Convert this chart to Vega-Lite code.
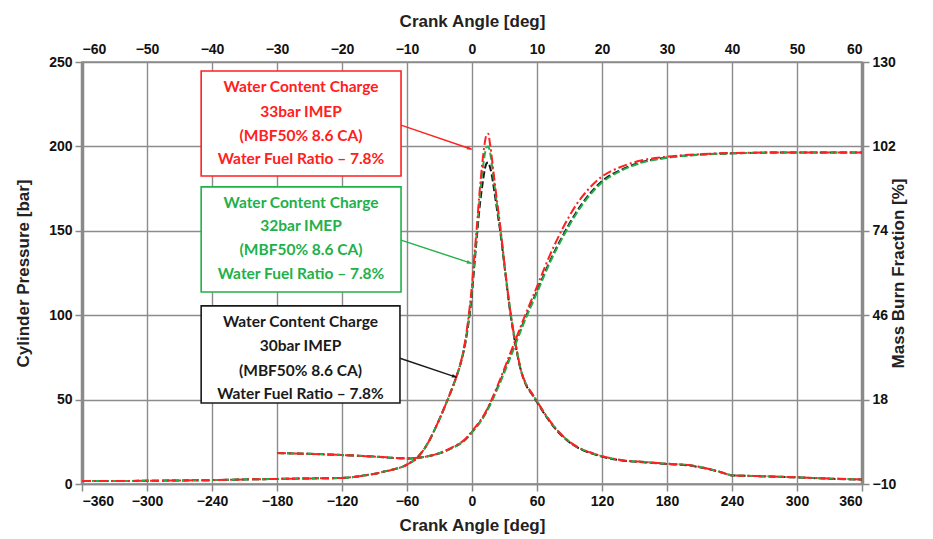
{
  "$schema": "https://vega.github.io/schema/vega-lite/v6.json",
  "width": 780,
  "height": 422,
  "autosize": {"type": "none"},
  "padding": {"left": 82, "top": 62, "right": 71, "bottom": 55},
  "background": "white",
  "config": {
    "view": {"stroke": "#8a8a8a", "strokeWidth": 1.5},
    "font": "Liberation Sans"
  },
  "datasets": {
    "pressure": [
      {"a": -360, "33bar": 1.8, "32bar": 1.8, "30bar": 1.8},
      {"a": -330, "33bar": 1.8, "32bar": 1.8, "30bar": 1.8},
      {"a": -300, "33bar": 1.9, "32bar": 1.9, "30bar": 1.9},
      {"a": -270, "33bar": 2.1, "32bar": 2.1, "30bar": 2.1},
      {"a": -240, "33bar": 2.3, "32bar": 2.3, "30bar": 2.3},
      {"a": -210, "33bar": 2.7, "32bar": 2.7, "30bar": 2.7},
      {"a": -180, "33bar": 3.0, "32bar": 3.0, "30bar": 3.0},
      {"a": -150, "33bar": 3.3, "32bar": 3.3, "30bar": 3.3},
      {"a": -120, "33bar": 3.6, "32bar": 3.6, "30bar": 3.6},
      {"a": -100, "33bar": 5, "32bar": 5, "30bar": 5},
      {"a": -80, "33bar": 7.5, "32bar": 7.5, "30bar": 7.5},
      {"a": -60, "33bar": 11.5, "32bar": 11.5, "30bar": 11.5},
      {"a": -50, "33bar": 16, "32bar": 16, "30bar": 16},
      {"a": -40, "33bar": 25, "32bar": 25, "30bar": 25},
      {"a": -35, "33bar": 31.5, "32bar": 31.5, "30bar": 31.5},
      {"a": -30, "33bar": 38.5, "32bar": 38.5, "30bar": 38.5},
      {"a": -25, "33bar": 46, "32bar": 46, "30bar": 46},
      {"a": -20, "33bar": 54, "32bar": 54, "30bar": 54},
      {"a": -15, "33bar": 62.5, "32bar": 62.5, "30bar": 62.5},
      {"a": -10, "33bar": 73, "32bar": 73, "30bar": 72.5},
      {"a": -6, "33bar": 86, "32bar": 85, "30bar": 84},
      {"a": -3, "33bar": 100, "32bar": 98, "30bar": 96.5},
      {"a": 0, "33bar": 118, "32bar": 115, "30bar": 113},
      {"a": 2, "33bar": 134, "32bar": 131, "30bar": 128},
      {"a": 4.3, "33bar": 151, "32bar": 148, "30bar": 145},
      {"a": 7, "33bar": 173, "32bar": 169, "30bar": 164},
      {"a": 10, "33bar": 193, "32bar": 187, "30bar": 179},
      {"a": 12, "33bar": 203, "32bar": 196, "30bar": 187},
      {"a": 13.5, "33bar": 207, "32bar": 199.5, "30bar": 190},
      {"a": 15, "33bar": 207.5, "32bar": 200, "30bar": 190.5},
      {"a": 16.5, "33bar": 202, "32bar": 197, "30bar": 188},
      {"a": 18, "33bar": 195, "32bar": 191, "30bar": 184},
      {"a": 20, "33bar": 184, "32bar": 181, "30bar": 176},
      {"a": 23, "33bar": 168, "32bar": 166, "30bar": 163},
      {"a": 26, "33bar": 153, "32bar": 152, "30bar": 150},
      {"a": 30, "33bar": 130, "32bar": 130, "30bar": 129},
      {"a": 35, "33bar": 104, "32bar": 104.5, "30bar": 103},
      {"a": 40, "33bar": 84, "32bar": 84, "30bar": 83},
      {"a": 45, "33bar": 68, "32bar": 68, "30bar": 67.5},
      {"a": 50, "33bar": 59, "32bar": 59, "30bar": 58.5},
      {"a": 55, "33bar": 54, "32bar": 54, "30bar": 53.5},
      {"a": 60, "33bar": 49, "32bar": 49, "30bar": 48.5},
      {"a": 70, "33bar": 39, "32bar": 39, "30bar": 38.5},
      {"a": 80, "33bar": 31, "32bar": 31, "30bar": 30.5},
      {"a": 90, "33bar": 25, "32bar": 25, "30bar": 24.7},
      {"a": 100, "33bar": 21, "32bar": 21, "30bar": 20.7},
      {"a": 110, "33bar": 18.5, "32bar": 18.5, "30bar": 18.2},
      {"a": 120, "33bar": 16.5, "32bar": 16.5, "30bar": 16.2},
      {"a": 140, "33bar": 14, "32bar": 14, "30bar": 13.8},
      {"a": 160, "33bar": 13, "32bar": 13, "30bar": 12.8},
      {"a": 180, "33bar": 12, "32bar": 12, "30bar": 11.8},
      {"a": 200, "33bar": 11.2, "32bar": 11.2, "30bar": 11},
      {"a": 215, "33bar": 9.5, "32bar": 9.5, "30bar": 9.3},
      {"a": 230, "33bar": 7, "32bar": 7, "30bar": 6.9},
      {"a": 240, "33bar": 5.2, "32bar": 5.2, "30bar": 5.1},
      {"a": 260, "33bar": 4.8, "32bar": 4.8, "30bar": 4.7},
      {"a": 280, "33bar": 4.4, "32bar": 4.4, "30bar": 4.3},
      {"a": 300, "33bar": 4, "32bar": 4, "30bar": 3.9},
      {"a": 330, "33bar": 3.2, "32bar": 3.2, "30bar": 3.1},
      {"a": 360, "33bar": 2.7, "32bar": 2.7, "30bar": 2.6}
    ],
    "mbf": [
      {"a": -30, "33bar": 0.3, "32bar": 0.3, "30bar": 0.3},
      {"a": -25, "33bar": 0, "32bar": 0, "30bar": 0},
      {"a": -20, "33bar": -0.4, "32bar": -0.4, "30bar": -0.4},
      {"a": -15, "33bar": -0.9, "32bar": -0.9, "30bar": -0.9},
      {"a": -10, "33bar": -1.5, "32bar": -1.5, "30bar": -1.5},
      {"a": -7, "33bar": -0.9, "32bar": -0.9, "30bar": -0.9},
      {"a": -5, "33bar": 0.3, "32bar": 0.2, "30bar": 0.2},
      {"a": -3, "33bar": 2.2, "32bar": 2, "30bar": 2},
      {"a": -1, "33bar": 5, "32bar": 4.7, "30bar": 4.8},
      {"a": 0, "33bar": 7.5, "32bar": 7.1, "30bar": 7.2},
      {"a": 2, "33bar": 13.5, "32bar": 13, "30bar": 13.2},
      {"a": 4, "33bar": 23, "32bar": 22, "30bar": 22.4},
      {"a": 6, "33bar": 34, "32bar": 32.5, "30bar": 33},
      {"a": 8, "33bar": 45, "32bar": 43.5, "30bar": 44},
      {"a": 10, "33bar": 55.5, "32bar": 53.5, "30bar": 54},
      {"a": 12, "33bar": 66, "32bar": 63.5, "30bar": 64},
      {"a": 14, "33bar": 75, "32bar": 72, "30bar": 72.5},
      {"a": 16, "33bar": 82.5, "32bar": 79.5, "30bar": 80},
      {"a": 18, "33bar": 88, "32bar": 85.5, "30bar": 86},
      {"a": 20, "33bar": 92, "32bar": 90, "30bar": 90.5},
      {"a": 23, "33bar": 95.3, "32bar": 94, "30bar": 94.3},
      {"a": 26, "33bar": 97.3, "32bar": 96.5, "30bar": 96.7},
      {"a": 30, "33bar": 98.6, "32bar": 98.2, "30bar": 98.3},
      {"a": 35, "33bar": 99.4, "32bar": 99.2, "30bar": 99.3},
      {"a": 40, "33bar": 99.8, "32bar": 99.7, "30bar": 99.7},
      {"a": 50, "33bar": 100, "32bar": 100, "30bar": 100},
      {"a": 60, "33bar": 100, "32bar": 100, "30bar": 100}
    ],
    "boxes": [
      {"s": "33bar", "x1": -250, "x2": -65.5, "y1": 244.7, "y2": 182.5},
      {"s": "32bar", "x1": -250, "x2": -65.5, "y1": 176, "y2": 113.7},
      {"s": "30bar", "x1": -250, "x2": -66.5, "y1": 105.5, "y2": 48}
    ],
    "labels": [
      {"s": "33bar", "x": -157.8, "y": 235.2, "t": "Water Content Charge"},
      {"s": "33bar", "x": -157.8, "y": 220.6, "t": "33bar IMEP"},
      {"s": "33bar", "x": -157.8, "y": 206.2, "t": "(MBF50% 8.6 CA)"},
      {"s": "33bar", "x": -157.8, "y": 192.5, "t": "Water Fuel Ratio – 7.8%"},
      {"s": "32bar", "x": -157.8, "y": 166.5, "t": "Water Content Charge"},
      {"s": "32bar", "x": -157.8, "y": 152.8, "t": "32bar IMEP"},
      {"s": "32bar", "x": -157.8, "y": 138.6, "t": "(MBF50% 8.6 CA)"},
      {"s": "32bar", "x": -157.8, "y": 124.4, "t": "Water Fuel Ratio – 7.8%"},
      {"s": "30bar", "x": -158.3, "y": 96, "t": "Water Content Charge"},
      {"s": "30bar", "x": -158.3, "y": 81.8, "t": "30bar IMEP"},
      {"s": "30bar", "x": -158.3, "y": 67, "t": "(MBF50% 8.6 CA)"},
      {"s": "30bar", "x": -158.3, "y": 53.3, "t": "Water Fuel Ratio – 7.8%"}
    ],
    "arrows": [
      {"s": "33bar", "x1": -65.5, "y1": 212.6, "x2": -0.3, "y2": 198.3},
      {"s": "32bar", "x1": -65.5, "y1": 144.5, "x2": -0.3, "y2": 130.7},
      {"s": "30bar", "x1": -66.5, "y1": 74.5, "x2": -14.1, "y2": 63.2}
    ]
  },
  "layer": [
    {
      "layer": [
        {
          "data": {"name": "pressure"},
          "transform": [{"fold": ["30bar", "32bar", "33bar"], "as": ["s", "v"]}],
          "mark": {"type": "line", "strokeWidth": 2, "interpolate": "monotone"},
          "encoding": {
            "x": {
              "field": "a", "type": "quantitative",
              "scale": {"domain": [-360, 360], "nice": false, "zero": false},
              "axis": {
                "orient": "bottom",
                "values": [-360, -300, -240, -180, -120, -60, 0, 60, 120, 180, 240, 300, 360],
                "title": "Crank Angle [deg]",
                "titleFont": "Liberation Sans", "titleFontSize": 17, "titleFontWeight": "bold", "titleColor": "#222", "titlePadding": 9,
                "labelFont": "Liberation Sans", "labelFontSize": 14, "labelFontWeight": "bold", "labelColor": "#111", "labelPadding": 3,
                "tickColor": "#888", "tickSize": 7, "tickWidth": 1.5,
                "domainColor": "#8a8a8a", "domainWidth": 1.5,
                "grid": true, "gridColor": "#8c8c8c", "gridWidth": 1.4
              }
            },
            "y": {
              "field": "v", "type": "quantitative",
              "scale": {"domain": [0, 250], "nice": false},
              "axis": {
                "orient": "left",
                "values": [0, 50, 100, 150, 200, 250],
                "title": "Cylinder Pressure [bar]",
                "titleFont": "Liberation Sans", "titleFontSize": 17, "titleFontWeight": "bold", "titleColor": "#222", "titlePadding": 16,
                "labelFont": "Liberation Sans", "labelFontSize": 14, "labelFontWeight": "bold", "labelColor": "#111", "labelPadding": 3,
                "tickColor": "#888", "tickSize": 7, "tickWidth": 1.5,
                "domainColor": "#8a8a8a", "domainWidth": 3.5,
                "grid": true, "gridColor": "#8c8c8c", "gridWidth": 1.4
              }
            },
            "color": {"field": "s", "type": "nominal", "scale": {"domain": ["30bar", "32bar", "33bar"], "range": ["#1a1a1a", "#22b04b", "#ff2020"]}, "legend": null},
            "strokeDash": {"field": "s", "type": "nominal", "scale": {"domain": ["30bar", "32bar", "33bar"], "range": [[7, 3], [7, 3], [9, 3, 2, 3]]}, "legend": null}
          }
        },
        {
          "data": {"name": "boxes"},
          "mark": {"type": "rect", "fill": "white", "strokeWidth": 1.6},
          "encoding": {
            "x": {"field": "x1", "type": "quantitative"},
            "x2": {"field": "x2"},
            "y": {"field": "y1", "type": "quantitative"},
            "y2": {"field": "y2"},
            "stroke": {"field": "s", "type": "nominal", "scale": {"domain": ["30bar", "32bar", "33bar"], "range": ["#1a1a1a", "#22b04b", "#ff2020"]}, "legend": null}
          }
        },
        {
          "data": {"name": "labels"},
          "mark": {"type": "text", "font": "Lato", "fontSize": 15.5, "fontWeight": "bold", "align": "center", "baseline": "middle"},
          "encoding": {
            "x": {"field": "x", "type": "quantitative"},
            "y": {"field": "y", "type": "quantitative"},
            "text": {"field": "t"},
            "fill": {"field": "s", "type": "nominal", "scale": {"domain": ["30bar", "32bar", "33bar"], "range": ["#1a1a1a", "#22b04b", "#ff2020"]}, "legend": null}
          }
        },
        {
          "data": {"name": "arrows"},
          "mark": {"type": "rule", "strokeWidth": 1.4},
          "encoding": {
            "x": {"field": "x1", "type": "quantitative"},
            "y": {"field": "y1", "type": "quantitative"},
            "x2": {"field": "x2"},
            "y2": {"field": "y2"},
            "stroke": {"field": "s", "type": "nominal", "scale": {"domain": ["30bar", "32bar", "33bar"], "range": ["#1a1a1a", "#22b04b", "#ff2020"]}, "legend": null}
          }
        },
        {
          "data": {"name": "arrows"},
          "mark": {"type": "point", "shape": "M0,0L-1,-0.4L-1,0.4Z", "filled": true, "size": 90, "angle": 18.5, "opacity": 1},
          "encoding": {
            "x": {"field": "x2", "type": "quantitative"},
            "y": {"field": "y2", "type": "quantitative"},
            "fill": {"field": "s", "type": "nominal", "scale": {"domain": ["30bar", "32bar", "33bar"], "range": ["#1a1a1a", "#22b04b", "#ff2020"]}, "legend": null}
          }
        }
      ]
    },
    {
      "data": {"name": "mbf"},
      "transform": [{"fold": ["30bar", "32bar", "33bar"], "as": ["s", "v"]}],
      "mark": {"type": "line", "strokeWidth": 2, "interpolate": "monotone"},
      "encoding": {
        "x": {
          "field": "a", "type": "quantitative",
          "scale": {"domain": [-60, 60], "nice": false, "zero": false},
          "axis": {
            "orient": "top",
            "values": [-60, -50, -40, -30, -20, -10, 0, 10, 20, 30, 40, 50, 60],
            "title": "Crank Angle [deg]",
            "titleFont": "Liberation Sans", "titleFontSize": 17, "titleFontWeight": "bold", "titleColor": "#222", "titlePadding": 12,
            "labelFont": "Liberation Sans", "labelFontSize": 14, "labelFontWeight": "bold", "labelColor": "#111", "labelPadding": 6,
            "ticks": false, "domain": false, "grid": false
          }
        },
        "y": {
          "field": "v", "type": "quantitative",
          "scale": {"domain": [-10, 130], "nice": false, "zero": false},
          "axis": {
            "orient": "right",
            "values": [-10, 18, 46, 74, 102, 130],
            "title": "Mass Burn Fraction [%]",
            "titleAngle": 270,
            "titleFont": "Liberation Sans", "titleFontSize": 17, "titleFontWeight": "bold", "titleColor": "#222", "titlePadding": 12,
            "labelFont": "Liberation Sans", "labelFontSize": 14, "labelFontWeight": "bold", "labelColor": "#111", "labelPadding": 3,
            "tickColor": "#888", "tickSize": 7, "tickWidth": 1.5,
            "domainColor": "#8a8a8a", "domainWidth": 3.5,
            "grid": false
          }
        },
        "color": {"field": "s", "type": "nominal", "scale": {"domain": ["30bar", "32bar", "33bar"], "range": ["#1a1a1a", "#22b04b", "#ff2020"]}, "legend": null},
        "strokeDash": {"field": "s", "type": "nominal", "scale": {"domain": ["30bar", "32bar", "33bar"], "range": [[7, 3], [7, 3], [9, 3, 2, 3]]}, "legend": null}
      }
    }
  ],
  "resolve": {"scale": {"x": "independent", "y": "independent"}}
}
